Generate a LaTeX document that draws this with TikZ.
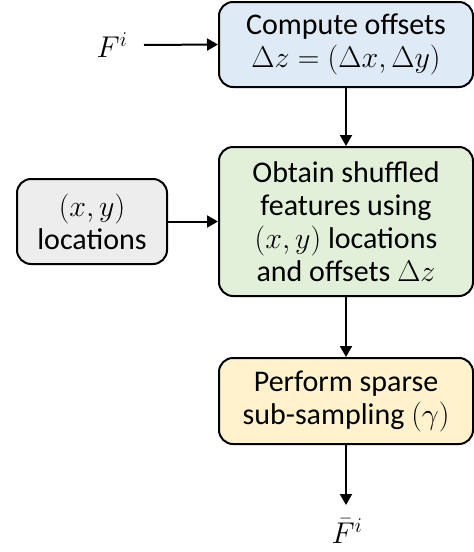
\RequirePackage{fix-cm}
\documentclass[tikz,border=0pt]{standalone}
\usepackage{fontspec}
\setmainfont{Carlito}
\usetikzlibrary{arrows.meta}
\definecolor{boxblue}{HTML}{DEEBF7}
\definecolor{boxgreen}{HTML}{E2F0D9}
\definecolor{boxgrey}{HTML}{EDEDED}
\definecolor{boxyellow}{HTML}{FFF2CC}
\begin{document}
\begin{tikzpicture}[x=1pt,y=-1pt,
  procbox/.style={draw=black,line width=2pt,rounded corners=14pt,align=center,
    inner sep=0pt,font=\fontsize{30}{33}\selectfont},
  flow/.style={line width=2pt,-{Triangle[length=11pt,width=12pt]}},
  lab/.style={inner sep=0pt,font=\fontsize{30}{33}\selectfont}]
\useasboundingbox (0,0) rectangle (474,552);
\node[procbox,fill=boxblue,minimum width=254pt,minimum height=85pt] (off) at (346,44.5)
  {Compute offsets\\$\Delta z=(\Delta x,\Delta y)$};
\node[procbox,fill=boxgreen,minimum width=254pt,minimum height=149pt] (shuf) at (346,221.5)
  {Obtain shuffled\\features using\\$(x,y)$ locations\\and offsets $\Delta z$};
\node[procbox,fill=boxgrey,minimum width=150pt,minimum height=85pt] (loc) at (92,221.5)
  {$(x,y)$\\locations};
\node[procbox,fill=boxyellow,minimum width=254pt,minimum height=86pt] (samp) at (346,401)
  {Perform sparse\\sub-sampling $(\gamma)$};
\node[lab] (fin) at (112,45) {$F^i$};
\node[lab] (fout) at (347,531) {$\bar{F}^i$};
\coordinate (fa) at (144,45);
\coordinate (fb) at (346,505);
\draw[flow] (fa) -- (off.west);
\draw[flow] (off.south) -- (shuf.north);
\draw[flow] (loc.east) -- (shuf.west);
\draw[flow] (shuf.south) -- (samp.north);
\draw[flow] (samp.south) -- (fb);
\end{tikzpicture}
\end{document}
